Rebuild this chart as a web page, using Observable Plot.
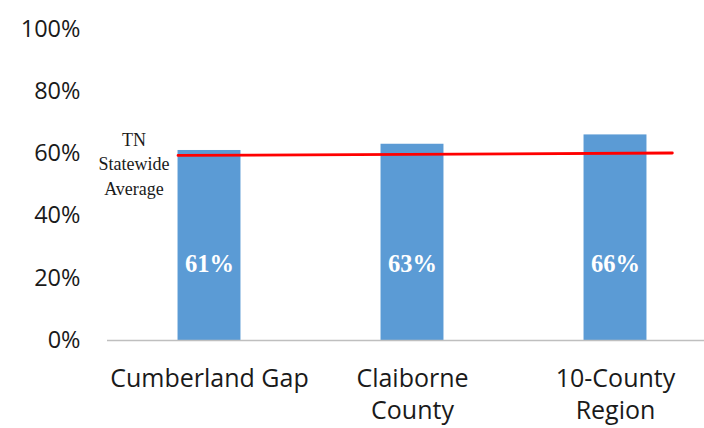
<!DOCTYPE html>
<html>
<head>
<meta charset="utf-8">
<script src="https://cdn.jsdelivr.net/npm/d3@7"></script>
<script src="https://cdn.jsdelivr.net/npm/@observablehq/plot@0.6"></script>
<style>
  html, body { margin: 0; padding: 0; background: #ffffff; }
  #chart { width: 704px; height: 428px; }
</style>
</head>
<body>
<div id="chart"></div>
<script>
// Share of residents, by area, against the Tennessee statewide average
const regions = ["Cumberland Gap", "Claiborne County", "10-County Region"];
const tickLabels = ["Cumberland Gap", "Claiborne\nCounty", "10-County\nRegion"];
const shares = [0.61, 0.63, 0.66];
const statewideAvg = [0.594, 0.602]; // average line, left and right ends
const yTicks = [0, 0.2, 0.4, 0.6, 0.8, 1.0];

const pct = d3.format(".0%");
const barInset = 0.345; // fraction of each category slot left empty before a bar
const rows = regions.map((name, i) => ({name, i, share: shares[i]}));
const avgLine = [
  {x: barInset, y: statewideAvg[0]},
  {x: regions.length - 0.22, y: statewideAvg[1]}
];

const chart = Plot.plot({
  width: 704,
  height: 428,
  marginLeft: 107,
  marginRight: 0,
  marginTop: 20,
  marginBottom: 88,
  style: {background: "#ffffff", color: "#1a1a1a"},
  x: {type: "linear", domain: [0, regions.length], range: [107.5, 716.5]},
  y: {domain: [0, 1], range: [340, 28.5]},
  marks: [
    Plot.rectY(rows, {
      x1: d => d.i + barInset,
      x2: d => d.i + 1 - barInset,
      y1: 0,
      y2: "share",
      fill: "#5b9bd5"
    }),
    Plot.ruleY([0], {stroke: "#bfbfbf", strokeWidth: 1.6}),
    Plot.text(rows, {
      x: d => d.i + 0.5,
      y: 0,
      dy: -76,
      text: d => pct(d.share),
      fill: "#ffffff",
      fontFamily: "Liberation Serif",
      fontWeight: "bold",
      fontSize: 24.5
    }),
    Plot.line(avgLine, {x: "x", y: "y", stroke: "#ff0000", strokeWidth: 2.8}),
    Plot.text([statewideAvg[0]], {
      x: 0,
      y: d => d,
      dx: 26,
      dy: 7,
      text: () => "TN\nStatewide\nAverage",
      lineHeight: 1.38,
      fontFamily: "Liberation Serif",
      fontSize: 18,
      fill: "#1a1a1a"
    }),
    Plot.axisY({
      ticks: yTicks,
      tickFormat: pct,
      tickSize: 0,
      tickPadding: 27,
      fontFamily: "Open Sans",
      fontSize: 23.5,
      fill: "#1a1a1a"
    }),
    Plot.axisX({
      ticks: regions.map((_, i) => i + 0.5),
      tickFormat: (d) => tickLabels[Math.floor(d)],
      tickSize: 0,
      tickPadding: 23,
      lineHeight: 1.3,
      fontFamily: "Open Sans",
      fontSize: 25,
      fill: "#1a1a1a",
      label: null
    })
  ]
});

document.getElementById("chart").appendChild(chart);
</script>
</body>
</html>
